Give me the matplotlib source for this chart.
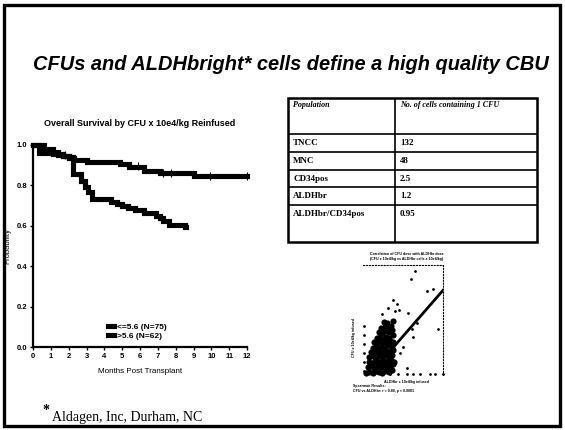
import matplotlib.pyplot as plt
from matplotlib.patches import Rectangle

# Kaplan-Meier curves, overall survival by CFU dose (x 10e4/kg)
low_t = [0, 0.6, 1.1, 1.4, 1.7, 2.0, 2.3, 3.0, 4.9, 5.4, 6.2, 7.1, 9.0, 12.0]
low_s = [1.0, 0.98, 0.965, 0.955, 0.945, 0.935, 0.925, 0.917, 0.905, 0.89, 0.87, 0.86, 0.845, 0.845]
low_cens_t = [1.8, 5.9, 7.3, 7.75, 9.9, 12.0]
low_cens_s = [0.95, 0.898, 0.862, 0.862, 0.845, 0.845]

high_t = [0, 0.35, 1.1, 1.4, 1.7, 2.0, 2.25, 2.7, 2.9, 3.1, 3.3, 4.4, 4.7, 5.0, 5.3,
          5.7, 6.2, 6.9, 7.1, 7.3, 7.6, 8.5, 8.6]
high_s = [1.0, 0.96, 0.955, 0.95, 0.945, 0.94, 0.855, 0.82, 0.79, 0.765, 0.735, 0.72,
          0.71, 0.70, 0.69, 0.68, 0.665, 0.648, 0.637, 0.625, 0.605, 0.595, 0.595]

labels = ["<=5.6 (N=75)", ">5.6 (N=62)"]
months = list(range(0, 13))
prob_ticks = [0.0, 0.2, 0.4, 0.6, 0.8, 1.0]

# Cells needed per CFU
populations = ["TNCC", "MNC", "CD34pos", "ALDHbr", "ALDHbr/CD34pos"]
cells_per_cfu = ["132", "48", "2.5", "1.2", "0.95"]

# CFU vs ALDHbr scatter (relative units 0-100)
blob_x = [4, 8, 12, 16, 20, 24, 28, 32, 36,
          6, 10, 14, 18, 22, 26, 30, 34, 38,
          7, 11, 15, 19, 23, 27, 31, 35, 39,
          8, 12, 16, 20, 24, 28, 32, 36,
          10, 14, 18, 22, 26, 30, 34, 38,
          12, 16, 20, 24, 28, 32, 36,
          14, 18, 22, 26, 30, 34, 38,
          17, 21, 25, 29, 33, 37,
          20, 24, 28, 32, 36,
          23, 27, 31, 35,
          26, 30, 38]
blob_y = [2, 3, 2, 4, 3, 2, 4, 3, 5,
          7, 8, 6, 8, 7, 9, 7, 8, 10,
          12, 11, 13, 12, 11, 13, 12, 14, 12,
          16, 17, 15, 17, 16, 18, 16, 18,
          21, 20, 22, 21, 20, 22, 21, 23,
          25, 26, 24, 26, 25, 27, 25,
          30, 29, 31, 30, 29, 31, 30,
          34, 35, 33, 35, 34, 36,
          39, 38, 40, 39, 41,
          43, 44, 43, 45,
          48, 47, 49]
out_x = [65, 60, 80, 87.5, 37.5, 42.5, 31, 40, 45, 56, 24, 67.5, 61, 94, 62.5, 50, 46, 55,
         34, 44, 55, 62.5, 71, 84, 90, 100, 1, 1, 1, 1, 1, 1]
out_y = [94.5, 87, 76, 78, 68, 64.5, 61, 58, 59, 56, 55.5, 47, 42, 42, 34.5, 25.5, 20, 6.4,
         1, 1, 1, 1, 1, 1, 1, 1, 4, 12, 20, 28, 36, 45]
fit_x = [15, 100]
fit_y = [6, 77]

W, H = 565, 430
fig = plt.figure(figsize=(W / 100, H / 100), dpi=100)
fig.patch.set_facecolor("white")

def px(x0, y0, w, h):
    # pixel box (left, top, width, height) -> figure fraction rect
    return [x0 / W, 1 - (y0 + h) / H, w / W, h / H]

# slide frame
fig.add_artist(Rectangle((4 / W, 1 - 426 / H), 556 / W, 421 / H, transform=fig.transFigure,
                         fill=False, lw=2.4, ec="black"))

fig.text(291 / W, 1 - 64 / H, "CFUs and ALDHbright* cells define a high quality CBU",
         family="Liberation Sans", weight="bold", style="italic", size=14.4,
         ha="center", va="center")

# ---- survival plot ----
sans = "Liberation Sans"
ax = fig.add_axes(px(33, 145, 214, 202))
l1, = ax.plot(low_t, low_s, drawstyle="steps-post", color="black", lw=3.7,
              solid_joinstyle="miter", clip_on=False)
l2, = ax.plot(high_t, high_s, drawstyle="steps-post", color="black", lw=3.7,
              solid_joinstyle="miter", clip_on=False)
ax.plot(low_cens_t, low_cens_s, ls="none", marker="|", ms=6, mew=0.8, color="black",
        clip_on=False)
ax.set_xlim(0, 12)
ax.set_ylim(0, 1)
for s in ["top", "right"]:
    ax.spines[s].set_visible(False)
for s in ["left", "bottom"]:
    ax.spines[s].set_linewidth(1.6)
ax.set_xticks(months)
ax.set_xticklabels([str(m) for m in months], family=sans, weight="bold", size=5.5)
ax.set_yticks(prob_ticks)
ax.set_yticklabels(["%.1f" % p for p in prob_ticks], family=sans, weight="bold", size=5.5)
ax.tick_params(length=2, width=1, pad=2)
ax.set_xlabel("Months Post Transplant", family=sans, size=5.8, labelpad=6)
ax.set_ylabel("Probability", family=sans, size=5.5, labelpad=4)
ax.legend([l1, l2], labels, loc="upper left", bbox_to_anchor=(0.33, 0.14),
          frameon=False, handlelength=0.8, handletextpad=0.3, labelspacing=0.2,
          borderpad=0, prop={"family": sans, "weight": "bold", "size": 6})
fig.text(140 / W, 1 - 123 / H, "Overall Survival by CFU x 10e4/kg Reinfused",
         family=sans, weight="bold", size=6.5, ha="center", va="center")

# ---- table ----
serif = "Liberation Serif"
tab = fig.add_axes(px(288, 98, 249, 144))
tab.set_xlim(0, 249)
tab.set_ylim(144, 0)
tab.axis("off")
edges = [0, 36, 54, 72, 89, 107, 144]
col = 107
tab.add_patch(Rectangle((0, 0), 249, 144, fill=False, lw=1.8, ec="black", clip_on=False))
tab.hlines(edges[1:-1], 0, 249, color="black", lw=1.2)
tab.vlines(col, 0, 144, color="black", lw=1.2)
tab.text(5, 7, "Population", family=serif, weight="bold", style="italic", size=5.8, va="center")
tab.text(col + 5, 7, "No. of cells containing 1 CFU", family=serif, weight="bold",
         style="italic", size=5.8, va="center")
for i, (name, val) in enumerate(zip(populations, cells_per_cfu)):
    y = edges[i + 1] + 9
    tab.text(5, y, name, family=serif, weight="bold", size=6.5, va="center")
    tab.text(col + 5, y, val, family=serif, weight="bold", size=6.5, va="center")

# ---- scatter inset ----
sc = fig.add_axes(px(363, 265, 80, 110))
sc.scatter(blob_x, blob_y, s=20, color="black", lw=0, clip_on=False)
sc.scatter(out_x, out_y, s=4, color="black", lw=0, clip_on=False)
sc.plot(fit_x, fit_y, color="black", lw=2)
sc.set_xlim(0, 100)
sc.set_ylim(0, 100)
sc.set_xticks([])
sc.set_yticks([])
for s in ["left", "bottom"]:
    sc.spines[s].set_visible(False)
for s in ["top", "right"]:
    sc.spines[s].set_linestyle(":")
    sc.spines[s].set_linewidth(0.8)
tiny = dict(family=sans, weight="bold", size=2.6)
fig.text(370 / W, 1 - 255 / H, "Correlation of CFU dose with ALDHbr dose", **tiny)
fig.text(370 / W, 1 - 260 / H, "(CFU x 10e4/kg vs ALDHbr cells x 10e4/kg)", **tiny)
fig.text(354 / W, 1 - 338 / H, "CFU x 10e4/kg infused", rotation=90, ha="center",
         va="center", **tiny)
fig.text(406 / W, 1 - 382 / H, "ALDHbr x 10e4/kg infused", ha="center", va="center", **tiny)
fig.text(353 / W, 1 - 386 / H, "Spearman Results:", va="center", **tiny)
fig.text(353 / W, 1 - 391 / H, "CFU vs ALDHbr: r = 0.80, p < 0.0001", va="center", **tiny)

# ---- footnote ----
fig.text(42 / W, 1 - 410 / H, "*", family=serif, weight="bold", size=10, va="center")
fig.text(52 / W, 1 - 417 / H, "Aldagen, Inc, Durham, NC", family=serif, size=10,
         va="center")

fig.savefig("out.png", dpi=100, facecolor="white")
